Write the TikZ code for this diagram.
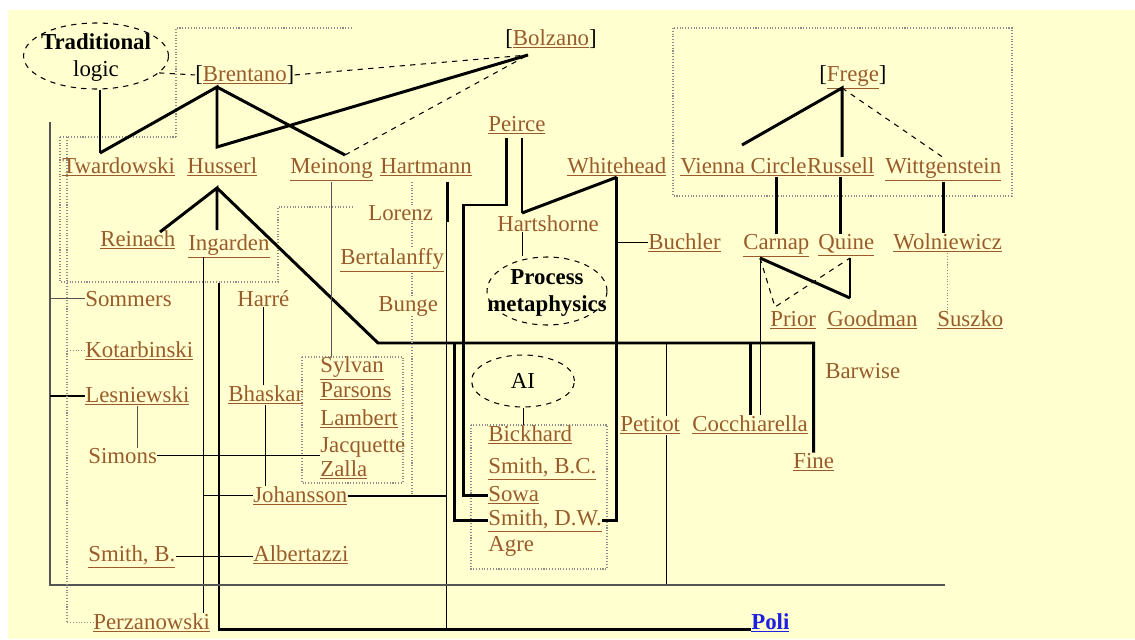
\documentclass[tikz,border=0pt]{standalone}
\usepackage{fontspec}
\setmainfont{Liberation Serif}
\usetikzlibrary{shapes.geometric}

\definecolor{pageYellow}{HTML}{FFFFD0}
\definecolor{nameBrown}{HTML}{9A5B2C}
\definecolor{linkBlue}{HTML}{1F1FE0}
\definecolor{boxGray}{HTML}{8C8C8C}
\definecolor{railGray}{HTML}{555555}

\begin{document}
\begin{tikzpicture}[x=0.02cm,y=-0.02cm,font=\fontsize{13}{15}\selectfont,
  person/.style={anchor=base west,inner sep=0pt,text=nameBrown},
  idea/.style={draw,dashed,ellipse,inner sep=0pt,line width=0.6pt},
  strong/.style={line width=1.7pt},
  plainlink/.style={line width=1pt},
  slim/.style={line width=0.55pt},
  hint/.style={dashed,line width=0.6pt},
  faint/.style={railGray,line width=0.6pt},
  group/.style={boxGray,densely dotted,line width=0.6pt}]
  \useasboundingbox (0,0) rectangle (1135,639);
  \fill[white] (0,0) rectangle (1135,639);
  \fill[pageYellow] (8,10) rectangle (1135,639);

  % dotted groups
  \draw[group] (176,137) -- (176,28) -- (352,28);
  \draw[group] (60,137) -- (176,137);
  \draw[group] (60,137) -- (60,282) -- (278,282) -- (278,207) -- (353,207);
  \draw[group] (673,28) rectangle (1012,196);
  \draw[group] (302,357) rectangle (403,483);
  \draw[group] (471,425) rectangle (607,569);

  % ideas
  \node[idea,minimum width=2.9cm,minimum height=1.32cm] (tradlogic) at (96,56)
    {\makebox[0pt]{\smash{\raisebox{-4pt}{\begin{tabular}{@{}c@{}}\textbf{Traditional}\\logic\end{tabular}}}}};
  \node[idea,minimum width=2.4cm,minimum height=1.36cm] (process) at (547,291)
    {\makebox[0pt]{\smash{\raisebox{-4pt}{\begin{tabular}{@{}c@{}}\textbf{Process}\\\textbf{metaphysics}\end{tabular}}}}};
  \node[idea,minimum width=2.06cm,minimum height=1.04cm] (ai) at (523,381) {AI};

  % people
  \node[person] (brentano) at (195,81) {\textcolor{black}{[}\underline{Brentano}\textcolor{black}{]}};
  \node[person] (bolzano) at (505,45) {\textcolor{black}{[}\underline{Bolzano}\textcolor{black}{]}};
  \node[person] (frege) at (819,81) {\textcolor{black}{[}\underline{Frege}\textcolor{black}{]}};
  \node[person] (peirce) at (488,131) {\underline{Peirce}};
  \node[person] (twardowski) at (62,173) {\underline{Twardowski}};
  \node[person] (husserl) at (187,173) {\underline{Husserl}};
  \node[person] (meinong) at (290,173) {\underline{Meinong}};
  \node[person] (hartmann) at (380,173) {\underline{Hartmann}};
  \node[person] (whitehead) at (567,173) {\underline{Whitehead}};
  \node[person] (vienna) at (680,173) {\underline{Vienna Circle}};
  \node[person] (russell) at (vienna.base east) {\underline{Russell}};
  \node[person] (wittgenstein) at (885,173) {\underline{Wittgenstein}};
  \node[person] (lorenz) at (368,220) {Lorenz};
  \node[person] (hartshorne) at (497,231) {Hartshorne};
  \node[person] (reinach) at (100,246) {\underline{Reinach}};
  \node[person] (ingarden) at (188,250) {\underline{Ingarden}};
  \node[person] (buchler) at (648,249) {\underline{Buchler}};
  \node[person] (carnap) at (743,249) {\underline{Carnap}};
  \node[person] (quine) at (818,249) {\underline{Quine}};
  \node[person] (wolniewicz) at (893,249) {\underline{Wolniewicz}};
  \node[person] (bertalanffy) at (340,264) {\underline{Bertalanffy}};
  \node[person] (sommers) at (85,306) {Sommers};
  \node[person] (harre) at (237,306) {Harré};
  \node[person] (bunge) at (378,311) {Bunge};
  \node[person] (prior) at (770,326) {\underline{Prior}};
  \node[person] (goodman) at (827,326) {\underline{Goodman}};
  \node[person] (suszko) at (937,326) {\underline{Suszko}};
  \node[person] (kotarbinski) at (85,357) {\underline{Kotarbinski}};
  \node[person] (sylvan) at (320,372) {\underline{Sylvan}};
  \node[person] (barwise) at (825,378) {Barwise};
  \node[person] (parsons) at (320,397) {\underline{Parsons}};
  \node[person] (bhaskar) at (228,401) {\underline{Bhaskar}};
  \node[person] (lesniewski) at (85,402) {\underline{Lesniewski}};
  \node[person] (lambert) at (320,425) {\underline{Lambert}};
  \node[person] (petitot) at (620,431) {\underline{Petitot}};
  \node[person] (cocchiarella) at (692,431) {\underline{Cocchiarella}};
  \node[person] (bickhard) at (488,441) {\underline{Bickhard}};
  \node[person] (jacquette) at (320,452) {Jacquette};
  \node[person] (simons) at (88,463) {Simons};
  \node[person] (fine) at (793,468) {\underline{Fine}};
  \node[person] (smithbc) at (488,473) {\underline{Smith, B.C.}};
  \node[person] (zalla) at (320,476) {\underline{Zalla}};
  \node[person] (sowa) at (488,501) {\underline{Sowa}};
  \node[person] (johansson) at (253,502) {\underline{Johansson}};
  \node[person] (smithdw) at (488,525) {\underline{Smith, D.W.}};
  \node[person] (agre) at (488,551) {Agre};
  \node[person] (smithb) at (88,561) {\underline{Smith, B.}};
  \node[person] (albertazzi) at (253,561) {\underline{Albertazzi}};
  \node[person] (perzanowski) at (93,629) {\underline{Perzanowski}};
  \node[person,text=linkBlue,font=\fontsize{13}{15}\selectfont\bfseries] (poli) at (751,629) {\underline{Poli}};

  % junctions
  \coordinate (twJ) at (100,153);
  \coordinate (brJ) at (217,87);
  \coordinate (huJ) at (217,147);
  \coordinate (meJ) at (345,155);
  \coordinate (boJ) at (528,55);
  \coordinate (frJ) at (842,88);
  \coordinate (viJ) at (742,145);
  \coordinate (huS) at (217,188);
  \coordinate (reJ) at (160,232);
  \coordinate (inJ) at (217,230);
  \coordinate (bend) at (378,343);
  \coordinate (smJ) at (454,343);
  \coordinate (peJ) at (666,343);
  \coordinate (coJ) at (750,343);
  \coordinate (pcA) at (506,138);
  \coordinate (pcB) at (522,138);
  \coordinate (pcC) at (463,205);
  \coordinate (pcD) at (522,213);
  \coordinate (hmJ) at (447,182);
  \coordinate (hmK) at (446,222);
  \coordinate (hmL) at (412,182);
  \coordinate (inA) at (203,257);
  \coordinate (inB) at (219,283);
  \coordinate (caJ) at (760,258);
  \coordinate (quJ) at (850,258);
  \coordinate (prJ) at (775,307);
  \coordinate (goJ) at (850,298);
  \coordinate (railTop) at (50,122);
  \coordinate (railEnd) at (945,585);
  \coordinate (dotTop) at (67,137);

  % Brentano and Bolzano
  \draw[plainlink] (twJ |- tradlogic.south) -- (twJ);
  \draw[hint] (tradlogic.-15) -- (brentano.west);
  \draw[strong] (twJ) -- (brJ) -- (huJ) -- (boJ);
  \draw[strong] (brJ) -- (meJ);
  \draw[hint] (meJ) -- (boJ);
  \draw[hint] (brentano.east) -- (boJ);

  % Frege
  \draw[strong] (viJ) -- (frJ) -- (frJ |- russell.north);
  \draw[hint] (frJ) -- (wittgenstein.north);
  \draw[strong] (carnap.north) -- (carnap.north |- vienna.south);
  \draw[strong] (russell.south) -- (russell.south |- quine.north);
  \draw[strong] (wittgenstein.south) -- (wittgenstein.south |- wolniewicz.north);
  \draw[strong] (caJ) -- (goJ);
  \draw[plainlink] (quJ) -- (goJ);
  \draw[hint] (caJ) -- (prJ) -- (quJ);
  \draw[slim] (caJ) -- (caJ |- cocchiarella.north);
  \draw[group] (wolniewicz.south) -- (wolniewicz.south |- suszko.north);

  % Husserl
  \draw[strong] (reJ) -- (huS) -- (inJ);
  \draw[strong] (huS) -- (bend) -- (bend -| fine.north) -- (fine.north);
  \draw[strong] (smJ) -- (smJ |- smithdw.west) -- (smithdw.west);
  \draw[slim] (peJ) -- (peJ |- petitot.north);
  \draw[slim] (peJ |- petitot.south) -- (peJ |- railEnd);
  \draw[strong] (coJ) -- (coJ |- cocchiarella.north);

  % Peirce and Whitehead
  \draw[strong] (pcA) -- (pcA |- pcC) -- (pcC) -- (pcC |- sowa.west) -- (sowa.west);
  \draw[plainlink] (pcB) -- (pcD);
  \draw[strong] (pcD) -- (whitehead.south);
  \draw[strong] (whitehead.south) -- (whitehead.south |- smithdw.east) -- (smithdw.east);
  \draw[slim] (buchler.west) -- (buchler.west -| whitehead.south);
  \draw[slim] (pcD |- hartshorne.south) -- (pcD |- process.north);
  \draw[slim] (ai.south) -- (ai.south |- bickhard.north);

  % Hartmann
  \draw[strong] (hmJ) -- (hmJ |- hmK);
  \draw[slim] (hmK) -- (hmK |- poli.base west);
  \draw[group] (hmL) -- (hmL |- lorenz.north);
  \draw[group] (hmL |- lorenz.south) -- (hmL |- bertalanffy.north);
  \draw[group] (hmL |- bertalanffy.south) -- (hmL |- bunge.north);
  \draw[group] (hmL |- bunge.south) -- (hmL |- johansson.east);
  \draw[plainlink] (johansson.east) -- (johansson.east -| hmK);

  % Ingarden and the Graz side
  \draw[slim] (inA) -- (inA |- perzanowski.north);
  \draw[slim] (inA |- johansson.west) -- (johansson.west);
  \draw[strong] (inB) -- (inB |- poli.base west) -- (poli.base west);
  \draw[slim] (harre.south) -- (harre.south |- bhaskar.north);
  \draw[slim] (bhaskar.south) -- (bhaskar.south |- johansson.north);
  \draw[faint] (meinong.south) -- (meinong.south |- sylvan.north);
  \draw[plainlink] (simons.east) -- (simons.east -| jacquette.west);
  \draw[plainlink] (smithb.east) -- (smithb.east -| albertazzi.west);
  \draw[faint] (lesniewski.south) -- (lesniewski.south |- simons.north);

  % Polish rails
  \draw[faint] (railTop) -- (railTop |- railEnd) -- (railEnd);
  \draw[faint] (sommers.west) -- (sommers.west -| railTop);
  \draw[plainlink] (lesniewski.west) -- (lesniewski.west -| railTop);
  \draw[group] (dotTop) -- (dotTop |- perzanowski.west) -- (perzanowski.west);
  \draw[group] (kotarbinski.west) -- (kotarbinski.west -| dotTop);
\end{tikzpicture}
\end{document}
